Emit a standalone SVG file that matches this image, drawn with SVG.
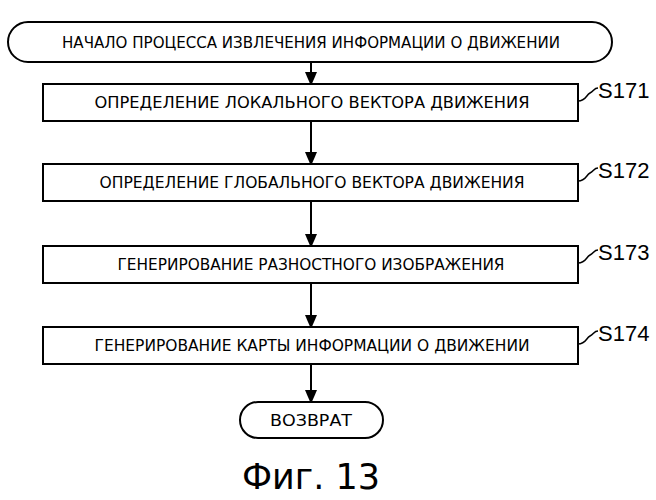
<svg xmlns="http://www.w3.org/2000/svg" width="656" height="500" viewBox="0 0 656 500">
<style>
.b{fill:#fff;stroke:#000;stroke-width:2}
.t{font-family:"DejaVu Sans Condensed","DejaVu Sans",sans-serif;font-stretch:condensed;font-size:15px;text-anchor:middle}
.s{font-family:"Liberation Sans",Arial,sans-serif;font-size:22px}
.c{fill:none;stroke:#000;stroke-width:1.5}
.a{stroke:#000;stroke-width:2}
</style>
<defs><marker id="m" markerWidth="12" markerHeight="14" refX="12" refY="6" orient="auto" markerUnits="userSpaceOnUse"><path d="M0,0 L14,6 L0,12 Z"/></marker></defs>
<rect width="656" height="500" fill="#fff"/>
<g id="connectors">
<line class="a" x1="311" y1="62" x2="311" y2="84" marker-end="url(#m)"/>
<line class="a" x1="311" y1="121" x2="311" y2="164" marker-end="url(#m)"/>
<line class="a" x1="311" y1="201" x2="311" y2="246" marker-end="url(#m)"/>
<line class="a" x1="311" y1="283" x2="311" y2="327" marker-end="url(#m)"/>
<line class="a" x1="311" y1="364" x2="311" y2="402" marker-end="url(#m)"/>
</g>
<g id="start"><rect class="b" x="8" y="22" width="604" height="40" rx="20"/><text class="t" x="311" y="48" textLength="498" lengthAdjust="spacingAndGlyphs">НАЧАЛО ПРОЦЕССА ИЗВЛЕЧЕНИЯ ИНФОРМАЦИИ О ДВИЖЕНИИ</text></g>
<g id="s171"><rect class="b" x="43" y="84" width="535" height="37"/><text class="t" x="312" y="108" textLength="435" lengthAdjust="spacingAndGlyphs">ОПРЕДЕЛЕНИЕ ЛОКАЛЬНОГО ВЕКТОРА ДВИЖЕНИЯ</text>
<path class="c" d="M578,101 C586,101 586,95 590,93 C594,91 594,88 598,88"/><text class="s" x="598" y="98">S171</text></g>
<g id="s172"><rect class="b" x="43" y="164" width="535" height="37"/><text class="t" x="312" y="188" textLength="425" lengthAdjust="spacingAndGlyphs">ОПРЕДЕЛЕНИЕ ГЛОБАЛЬНОГО ВЕКТОРА ДВИЖЕНИЯ</text>
<path class="c" d="M578,181 C586,181 586,175 590,173 C594,171 594,168 598,168"/><text class="s" x="598" y="178">S172</text></g>
<g id="s173"><rect class="b" x="43" y="246" width="535" height="37"/><text class="t" x="311" y="270" textLength="387" lengthAdjust="spacingAndGlyphs">ГЕНЕРИРОВАНИЕ РАЗНОСТНОГО ИЗОБРАЖЕНИЯ</text>
<path class="c" d="M578,263 C586,263 586,257 590,255 C594,253 594,250 598,250"/><text class="s" x="598" y="260">S173</text></g>
<g id="s174"><rect class="b" x="43" y="327" width="535" height="37"/><text class="t" x="312" y="351" textLength="435" lengthAdjust="spacingAndGlyphs">ГЕНЕРИРОВАНИЕ КАРТЫ ИНФОРМАЦИИ О ДВИЖЕНИИ</text>
<path class="c" d="M578,344 C586,344 586,338 590,336 C594,334 594,331 598,331"/><text class="s" x="598" y="341">S174</text></g>
<g id="end"><rect class="b" x="240" y="402" width="143" height="36" rx="18"/><text class="t" x="311" y="426" textLength="82" lengthAdjust="spacingAndGlyphs">ВОЗВРАТ</text></g>
<text x="311" y="489" font-family="'DejaVu Sans',sans-serif" font-size="35" text-anchor="middle">Фиг. 13</text>
</svg>
